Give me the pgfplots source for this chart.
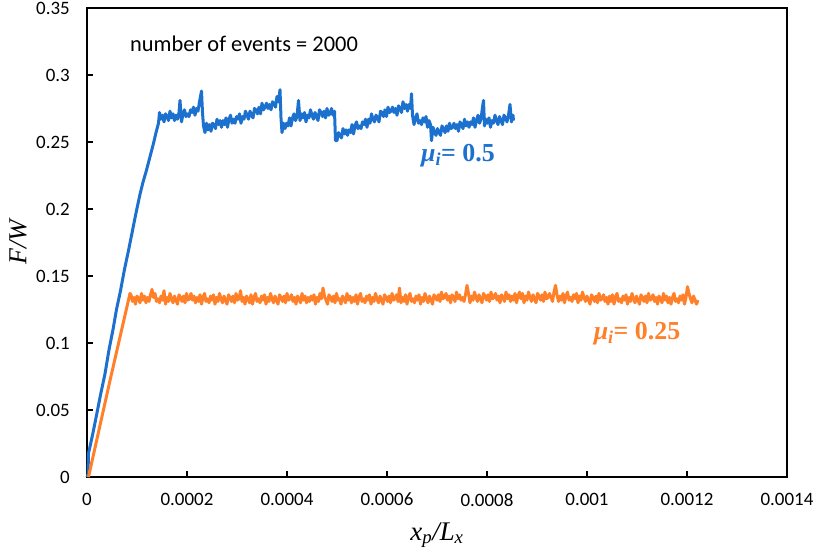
\documentclass[border=0pt]{standalone}
\usepackage{fontspec}
\setmainfont{Carlito}
\newfontfamily\tnr{Liberation Serif}
\usepackage{pgfplots}
\pgfplotsset{compat=1.18}
\definecolor{cblue}{RGB}{28,112,206}
\definecolor{corange}{RGB}{255,128,40}
\begin{document}
\begin{tikzpicture}
\path[use as bounding box] (-87bp,-82bp) rectangle (729bp,477bp);
\begin{axis}[
  at={(0,0)}, anchor=south west,
  scale only axis, width=700bp, height=469bp,
  xmin=0, xmax=1400, ymin=0, ymax=0.35,
  xtick={0,200,400,600,800,1000,1200,1400},
  xticklabels={0,0.0002,0.0004,0.0006,0.0008,0.001,0.0012,0.0014},
  ytick={0,0.05,0.1,0.15,0.2,0.25,0.3,0.35},
  yticklabels={0,0.05,0.1,0.15,0.2,0.25,0.3,0.35},
  tick align=inside, xtick pos=bottom, ytick pos=left,
  major tick length=6bp,
  axis line style={line width=1.6bp},
  every tick/.style={black, line width=1.3bp},
  ticklabel style={font=\fontsize{19}{22}\selectfont, inner sep=0pt},
  yticklabel style={xshift=-17bp},
  xticklabel style={yshift=-16bp},
  /pgf/number format/assume math mode=true,
  xlabel={\tnr\itshape\fontsize{27}{31}\selectfont x\textsubscript{p}/L\textsubscript{x}},
  ylabel={\tnr\itshape\fontsize{26}{30}\selectfont F/W},
  xlabel style={at={(axis description cs:0.5,0)}, anchor=center, yshift=-58bp},
  ylabel style={at={(axis description cs:0,0.5)}, anchor=center, yshift=69bp},
  clip=false,
]
\addplot[color=cblue, line width=3bp, line join=round] coordinates {
(0,0) (2,0.002) (3,0.018) (5,0.021) (12,0.033) (20,0.048) (28,0.063) (36,0.077) (44,0.095) (52,0.110) (59,0.125) (67,0.139) (75,0.155) (83,0.169) (90,0.182) (98,0.197) (106,0.211) (112,0.220) (119,0.229) (126,0.239) (133,0.249) (138,0.257) (143,0.264)
(145,0.272) (148,0.267) (151,0.270) (154,0.265) (157,0.271) (160,0.269) (163,0.266) (166,0.273) (169,0.268) (172,0.271) (175,0.266) (178,0.270) (181,0.267) (184,0.272) (186,0.281)
(189,0.265) (192,0.271) (195,0.274) (198,0.269) (201,0.271) (204,0.269) (207,0.274) (210,0.272) (213,0.276) (216,0.270) (219,0.275) (222,0.273) (225,0.280) (227,0.284) (229,0.288)
(231,0.272) (233,0.262) (236,0.257)
(239,0.264) (242,0.259) (245,0.263) (248,0.258) (251,0.264) (254,0.263) (257,0.260) (260,0.267) (263,0.263) (266,0.266) (269,0.261) (272,0.266) (275,0.263) (278,0.268) (281,0.261) (284,0.267) (287,0.270) (290,0.264) (293,0.267) (296,0.264) (299,0.269) (302,0.267) (305,0.271)
(308,0.264) (311,0.269) (314,0.267) (317,0.273) (320,0.270) (323,0.267) (326,0.273) (329,0.270) (332,0.268) (335,0.275) (338,0.274) (341,0.271) (344,0.276) (347,0.271) (350,0.279) (353,0.274) (356,0.276) (359,0.279) (362,0.275) (365,0.278) (368,0.274) (371,0.280) (374,0.279) (377,0.276) (380,0.284) (383,0.280) (386,0.289)
(388,0.268) (390,0.257)
(393,0.264) (396,0.260) (399,0.264) (402,0.262) (405,0.268) (408,0.262) (411,0.268) (414,0.271) (417,0.266) (420,0.269) (423,0.281)
(426,0.266) (429,0.271) (432,0.268) (435,0.272) (438,0.265) (441,0.270) (444,0.268) (447,0.274) (450,0.270) (453,0.267) (456,0.272) (459,0.269) (462,0.266) (465,0.274) (468,0.272) (471,0.269) (474,0.273) (477,0.268) (480,0.275) (483,0.270) (486,0.271) (489,0.275) (492,0.270) (495,0.273)
(497,0.251)
(500,0.251) (503,0.257) (506,0.255) (509,0.253) (512,0.260) (515,0.256) (518,0.259) (521,0.255) (524,0.259) (527,0.257) (530,0.263) (533,0.256) (536,0.262) (539,0.265) (542,0.260) (545,0.262) (548,0.260) (551,0.265) (554,0.263) (557,0.267) (560,0.261) (563,0.267) (566,0.264) (569,0.271) (572,0.267) (575,0.265) (578,0.270) (581,0.268) (584,0.265) (587,0.273)
(590,0.272) (593,0.269) (596,0.274) (599,0.269) (602,0.276) (605,0.272) (608,0.273) (611,0.276) (614,0.272) (617,0.275) (620,0.270) (623,0.277) (626,0.275) (629,0.272) (632,0.280) (635,0.275) (638,0.278) (641,0.273) (644,0.278) (647,0.275) (649,0.286)
(651,0.270) (654,0.263) (657,0.268) (660,0.271) (663,0.264) (666,0.266) (669,0.263) (672,0.268) (675,0.265) (678,0.269) (681,0.261) (684,0.266) (687,0.263)
(689,0.251)
(692,0.261) (695,0.257) (698,0.255) (701,0.260) (704,0.257) (707,0.255) (710,0.262) (713,0.260) (716,0.257) (719,0.262) (722,0.258) (725,0.264) (728,0.260) (731,0.261) (734,0.264) (737,0.260) (740,0.263) (743,0.258) (746,0.265) (749,0.263) (752,0.260) (755,0.267) (758,0.262) (761,0.265) (764,0.261) (767,0.265) (770,0.263) (773,0.268) (776,0.261) (779,0.266) (782,0.270) (785,0.264) (788,0.267) (791,0.276) (793,0.281)
(795,0.262) (798,0.267) (801,0.264) (804,0.268) (807,0.261) (810,0.266) (813,0.264) (816,0.270) (819,0.266) (822,0.263) (825,0.269) (828,0.266) (831,0.263) (834,0.270) (837,0.268) (840,0.265) (843,0.270) (846,0.278) (849,0.265) (852,0.270) (853,0.266)
};
\addplot[color=corange, line width=3bp, line join=round] coordinates {
(3,0) (46,0.072) (86,0.137)
(88,0.136) (91,0.131) (94,0.134) (97,0.129) (100,0.135) (103,0.133) (106,0.130) (109,0.137) (112,0.132) (115,0.135) (118,0.130) (121,0.134) (124,0.131) (127,0.136) (130,0.140) (133,0.134) (136,0.137) (139,0.131) (142,0.133) (145,0.130)
(148,0.135) (151,0.132) (154,0.139) (157,0.129) (160,0.134) (163,0.131) (166,0.137) (169,0.133) (172,0.130) (175,0.135) (178,0.132) (181,0.129) (184,0.136) (187,0.134) (190,0.131) (193,0.135) (196,0.130) (199,0.137) (202,0.132) (205,0.133)
(208,0.137) (211,0.132) (214,0.135) (217,0.130) (220,0.134) (223,0.131) (226,0.136) (229,0.129) (232,0.134) (235,0.137) (238,0.131) (241,0.133) (244,0.130) (247,0.135) (250,0.132) (253,0.136) (256,0.129) (259,0.134) (262,0.131) (265,0.137)
(268,0.133) (271,0.130) (274,0.135) (277,0.132) (280,0.129) (283,0.136) (286,0.134) (289,0.131) (292,0.135) (295,0.130) (298,0.137) (301,0.132) (304,0.133) (307,0.139) (310,0.131) (313,0.134) (316,0.129) (319,0.135) (322,0.133) (325,0.130)
(328,0.136) (331,0.129) (334,0.134) (337,0.137) (340,0.131) (343,0.133) (346,0.130) (349,0.135) (352,0.132) (355,0.136) (358,0.129) (361,0.134) (364,0.131) (367,0.137) (370,0.133) (373,0.130) (376,0.135) (379,0.132) (382,0.129) (385,0.136)
(388,0.134) (391,0.131) (394,0.135) (397,0.130) (400,0.137) (403,0.132) (406,0.133) (409,0.136) (412,0.131) (415,0.134) (418,0.129) (421,0.135) (424,0.133) (427,0.130) (430,0.137) (433,0.132) (436,0.135) (439,0.130) (442,0.134) (445,0.131)
(448,0.135) (451,0.132) (454,0.136) (457,0.129) (460,0.134) (463,0.131) (466,0.137) (469,0.133) (472,0.141) (475,0.135) (478,0.132) (481,0.129) (484,0.136) (487,0.134) (490,0.131) (493,0.135) (496,0.130) (499,0.137) (502,0.132) (505,0.133)
(508,0.129) (511,0.135) (514,0.133) (517,0.130) (520,0.137) (523,0.132) (526,0.135) (529,0.130) (532,0.134) (535,0.131) (538,0.136) (541,0.129) (544,0.134) (547,0.137) (550,0.131) (553,0.133) (556,0.130) (559,0.135) (562,0.132) (565,0.136)
(568,0.129) (571,0.134) (574,0.131) (577,0.137) (580,0.133) (583,0.130) (586,0.135) (589,0.132) (592,0.129) (595,0.136) (598,0.134) (601,0.131) (604,0.135) (607,0.130) (610,0.137) (613,0.132) (616,0.133) (619,0.136) (622,0.131) (625,0.141)
(628,0.130) (631,0.134) (634,0.131) (637,0.136) (640,0.129) (643,0.134) (646,0.137) (649,0.131) (652,0.133) (655,0.130) (658,0.135) (661,0.132) (664,0.136) (667,0.129) (670,0.134) (673,0.131) (676,0.137) (679,0.133) (682,0.130) (685,0.135)
(688,0.132) (691,0.129) (694,0.136) (697,0.134) (700,0.132) (703,0.136) (706,0.131) (709,0.138) (712,0.133) (715,0.134) (718,0.137) (721,0.132) (724,0.135) (727,0.130) (730,0.136) (733,0.134) (736,0.131) (739,0.138) (742,0.133) (745,0.136)
(748,0.132) (751,0.134) (754,0.131) (757,0.136) (760,0.143) (763,0.137) (766,0.130) (769,0.135) (772,0.132) (775,0.138) (778,0.134) (781,0.131) (784,0.136) (787,0.133) (790,0.130) (793,0.137) (796,0.135) (799,0.132) (802,0.136) (805,0.131)
(808,0.138) (811,0.133) (814,0.134) (817,0.137) (820,0.132) (823,0.135) (826,0.130) (829,0.136) (832,0.134) (835,0.131) (838,0.138) (841,0.133) (844,0.136) (847,0.131) (850,0.135) (853,0.132) (856,0.137) (859,0.130) (862,0.135) (865,0.138)
(868,0.133) (871,0.137) (874,0.130) (877,0.135) (880,0.132) (883,0.138) (886,0.134) (889,0.131) (892,0.136) (895,0.133) (898,0.130) (901,0.137) (904,0.135) (907,0.132) (910,0.136) (913,0.131) (916,0.138) (919,0.133) (922,0.134) (925,0.137)
(928,0.134) (931,0.131) (934,0.138) (937,0.143) (940,0.136) (943,0.131) (946,0.135) (949,0.132) (952,0.137) (955,0.130) (958,0.135) (961,0.138) (964,0.132) (967,0.134) (970,0.131) (973,0.136) (976,0.133) (979,0.137) (982,0.130) (985,0.135)
(988,0.132) (991,0.138) (994,0.134) (997,0.131) (1000,0.135) (1003,0.132) (1006,0.129) (1009,0.136) (1012,0.134) (1015,0.131) (1018,0.135) (1021,0.130) (1024,0.137) (1027,0.132) (1030,0.133) (1033,0.136) (1036,0.131) (1039,0.134) (1042,0.129) (1045,0.135)
(1048,0.131) (1051,0.136) (1054,0.129) (1057,0.134) (1060,0.137) (1063,0.131) (1066,0.133) (1069,0.130) (1072,0.135) (1075,0.132) (1078,0.136) (1081,0.129) (1084,0.134) (1087,0.131) (1090,0.137) (1093,0.133) (1096,0.130) (1099,0.135) (1102,0.132) (1105,0.129)
(1108,0.136) (1111,0.134) (1114,0.131) (1117,0.135) (1120,0.130) (1123,0.137) (1126,0.132) (1129,0.133) (1132,0.136) (1135,0.131) (1138,0.134) (1141,0.129) (1144,0.135) (1147,0.133) (1150,0.130) (1153,0.137) (1156,0.132) (1159,0.135) (1162,0.130) (1165,0.134)
(1168,0.129) (1171,0.134) (1174,0.137) (1177,0.131) (1180,0.133) (1183,0.130) (1186,0.135) (1189,0.132) (1192,0.136) (1195,0.129) (1198,0.134) (1201,0.142) (1204,0.137) (1207,0.133) (1210,0.130) (1213,0.135) (1216,0.132) (1219,0.129) (1222,0.132)
};
\node[anchor=west, inner sep=0pt, font=\fontsize{22.5}{26}\selectfont] at (axis cs:86,0.3231) {number of events = 2000};
\node[anchor=center, inner sep=0pt, text=cblue, font=\tnr\bfseries\fontsize{26}{30}\selectfont] at (axis cs:742,0.240) {\itshape μ\textsubscript{i}\upshape = 0.5};
\node[anchor=center, inner sep=0pt, text=corange, font=\tnr\bfseries\fontsize{26}{30}\selectfont] at (axis cs:1100,0.1067) {\itshape μ\textsubscript{i}\upshape = 0.25};
\end{axis}
\end{tikzpicture}
\end{document}
